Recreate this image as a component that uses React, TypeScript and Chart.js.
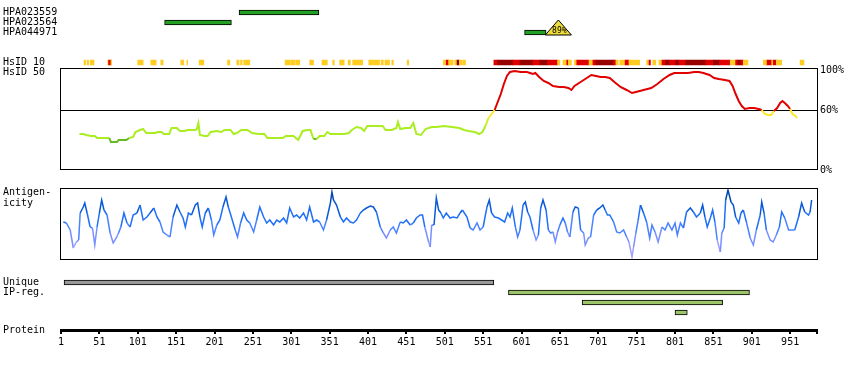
import React, { useEffect, useRef } from 'react';
import { Chart, registerables } from 'chart.js';

Chart.register(...registerables);

// ---------- data ----------
const proteinLength = 986;
const axisTicks = [1, 51, 101, 151, 201, 251, 301, 351, 401, 451, 501, 551, 601, 651, 701, 751, 801, 851, 901, 951];
const simTicks = [0, 60, 100];

const abNames = ['HPA023559', 'HPA023564', 'HPA044971'];
const abStart = [233, 136, 605];
const abEnd = [337, 223, 633];
const abRow = [1, 2, 3];

const triStart = [632];
const triEnd = [666];
const triRow = [3];
const triPct = [89];

const hsRow = 6;
const hsStart = [31, 35, 39, 62, 63, 66, 101, 118, 131, 157, 165, 181, 218, 230, 235, 239, 293, 300, 307, 325, 341, 355, 364, 375, 381, 402, 418, 423, 432, 452, 499, 503, 506, 514, 517, 520, 525, 565, 570, 590, 599, 616, 625, 635, 648, 655, 660, 662, 670, 673, 689, 694, 698, 721, 724, 729, 736, 741, 764, 767, 772, 780, 784, 789, 794, 802, 806, 815, 841, 851, 859, 873, 880, 883, 887, 890, 916, 921, 927, 929, 933, 964];
const hsEnd = [33, 37, 44, 63, 66, 67, 108, 125, 134, 161, 166, 187, 221, 233, 237, 247, 299, 306, 312, 330, 348, 357, 370, 378, 394, 416, 421, 429, 434, 454, 503, 506, 512, 517, 520, 524, 528, 570, 590, 599, 616, 625, 635, 648, 651, 660, 662, 666, 673, 689, 694, 698, 721, 724, 727, 736, 741, 755, 766, 769, 776, 784, 789, 794, 802, 806, 815, 841, 851, 859, 873, 880, 883, 887, 890, 896, 921, 927, 929, 933, 940, 969];
const hsLevel = [0, 0, 0, 0, 1, 0, 0, 0, 0, 0, 0, 0, 0, 0, 0, 0, 0, 0, 0, 0, 0, 0, 0, 0, 0, 0, 0, 0, 0, 0, 0, 1, 0, 0, 2, 0, 0, 1, 2, 1, 2, 1, 2, 1, 0, 0, 1, 0, 0, 1, 0, 1, 2, 1, 0, 0, 1, 0, 0, 1, 0, 0, 1, 2, 1, 2, 1, 2, 1, 2, 1, 0, 1, 2, 1, 0, 0, 1, 0, 1, 0, 0];

const simPos = [25, 30, 34, 40, 45, 48, 58, 64, 66, 74, 76, 80, 86, 90, 95, 98, 104, 108, 112, 118, 124, 127, 132, 135, 142, 145, 152, 156, 162, 166, 172, 176, 178, 180, 182, 188, 192, 196, 204, 210, 214, 222, 226, 230, 236, 244, 250, 258, 266, 270, 280, 290, 294, 304, 310, 316, 322, 326, 330, 334, 338, 344, 348, 352, 360, 370, 376, 380, 386, 392, 396, 400, 410, 420, 424, 432, 438, 440, 443, 450, 456, 460, 464, 470, 476, 484, 490, 500, 510, 520, 526, 532, 540, 546, 550, 554, 558, 562, 566, 570, 574, 578, 582, 586, 592, 600, 608, 612, 616, 619, 624, 630, 636, 642, 650, 656, 662, 666, 670, 678, 686, 692, 698, 704, 710, 716, 722, 730, 738, 745, 750, 760, 770, 778, 786, 794, 800, 810, 818, 826, 832, 838, 846, 852, 858, 866, 872, 876, 880, 884, 888, 892, 898, 904, 910, 914, 918, 922, 926, 930, 934, 938, 941, 944, 948, 951, 954, 958, 960];
const simVal = [36, 36, 35, 34, 34, 32, 32, 32, 28, 28, 30, 30, 30, 32, 33, 38, 40, 41, 37, 37, 37, 38, 38, 36, 36, 42, 42, 39, 39, 40, 40, 40, 41, 47, 35, 34, 34, 38, 39, 38, 40, 40, 36, 37, 40, 40, 37, 36, 36, 32, 32, 32, 34, 34, 30, 39, 40, 40, 31, 31, 34, 34, 38, 36, 36, 36, 37, 40, 43, 42, 39, 44, 44, 44, 40, 40, 42, 48, 41, 42, 42, 47, 36, 35, 41, 43, 43, 44, 43, 42, 40, 39, 38, 36, 38, 44, 52, 56, 60, 68, 76, 86, 94, 98, 99, 98, 98, 97, 96, 97, 93, 89, 87, 84, 83, 83, 82, 80, 84, 88, 92, 95, 94, 93, 93, 92, 88, 83, 80, 77, 78, 80, 82, 86, 91, 95, 97, 97, 97, 98, 98, 97, 95, 92, 91, 90, 89, 84, 76, 69, 64, 61, 62, 62, 61, 60, 56, 55, 55, 59, 62, 67, 69, 67, 64, 61, 56, 54, 52];

const antPos = [4, 8, 13, 17, 21, 24, 26, 30, 32, 35, 39, 42, 45, 48, 51, 54, 57, 61, 65, 69, 73, 76, 79, 83, 87, 91, 95, 100, 104, 108, 113, 117, 122, 126, 130, 134, 139, 143, 147, 152, 156, 160, 163, 167, 171, 176, 179, 182, 185, 189, 193, 197, 200, 204, 208, 212, 216, 219, 223, 228, 231, 235, 239, 243, 247, 252, 256, 260, 265, 269, 273, 278, 282, 286, 291, 295, 299, 304, 308, 312, 317, 321, 325, 330, 334, 338, 343, 347, 352, 354, 356, 360, 365, 369, 373, 378, 382, 386, 391, 395, 399, 404, 408, 412, 417, 421, 425, 430, 434, 438, 443, 447, 451, 456, 460, 464, 469, 472, 475, 480, 482, 484, 487, 490, 493, 496, 499, 503, 508, 512, 517, 521, 524, 530, 534, 538, 543, 547, 551, 556, 559, 562, 566, 571, 575, 579, 583, 586, 589, 593, 596, 599, 603, 606, 609, 612, 616, 620, 623, 626, 629, 633, 636, 639, 642, 645, 648, 651, 655, 658, 661, 664, 668, 671, 675, 678, 682, 684, 688, 691, 695, 699, 703, 707, 710, 713, 716, 721, 725, 729, 734, 738, 741, 745, 747, 750, 753, 756, 760, 764, 768, 771, 775, 779, 784, 788, 792, 797, 801, 804, 808, 812, 816, 821, 825, 829, 834, 837, 840, 843, 847, 850, 853, 856, 860, 862, 865, 867, 870, 874, 877, 880, 884, 887, 890, 894, 899, 903, 907, 912, 914, 917, 920, 925, 929, 933, 937, 940, 944, 949, 953, 957, 962, 966, 970, 975, 977, 979];
const antVal = [38, 37, 30, 12, 18, 20, 47, 53, 57, 47, 33, 32, 15, 33, 47, 60, 50, 45, 27, 17, 22, 27, 33, 47, 37, 33, 45, 47, 55, 40, 43, 47, 52, 43, 38, 28, 25, 23, 43, 55, 48, 42, 33, 47, 45, 55, 57, 43, 33, 47, 52, 40, 25, 35, 40, 53, 63, 53, 43, 30, 23, 37, 47, 40, 37, 28, 40, 53, 43, 37, 40, 35, 40, 38, 42, 37, 52, 43, 45, 42, 47, 40, 53, 38, 40, 38, 30, 40, 57, 68, 60, 55, 43, 38, 42, 38, 37, 40, 47, 50, 52, 54, 53, 48, 33, 27, 22, 30, 33, 27, 38, 37, 40, 35, 37, 42, 45, 45, 33, 18, 13, 35, 35, 62, 50, 47, 42, 47, 42, 43, 42, 47, 50, 43, 32, 30, 37, 30, 33, 53, 60, 47, 43, 42, 40, 38, 47, 43, 52, 33, 23, 30, 55, 58, 48, 43, 30, 20, 25, 52, 60, 50, 30, 27, 28, 18, 28, 35, 42, 37, 28, 23, 48, 53, 52, 30, 27, 15, 22, 23, 45, 50, 52, 55, 50, 45, 45, 38, 28, 27, 30, 23, 18, 3, 13, 27, 40, 55, 47, 38, 22, 35, 28, 18, 33, 30, 37, 30, 37, 25, 37, 32, 48, 52, 48, 43, 47, 55, 43, 33, 42, 50, 38, 20, 8, 27, 32, 60, 70, 58, 55, 43, 37, 47, 50, 38, 22, 15, 30, 45, 58, 47, 30, 20, 18, 25, 33, 48, 42, 30, 30, 30, 43, 57, 48, 45, 48, 60];

const ipLabels = ['Unique', 'IP-reg.'];
const ipStart = [5, 584, 680, 801];
const ipEnd = [565, 898, 863, 817];
const ipRow = [1, 2, 3, 4];
const ipKind = ['unique', 'ip', 'ip', 'ip'];

// ---------- styles ----------
const FONT = '"DejaVu Sans Mono", monospace';
const hsColors = ['#ffcc22', '#e00000', '#990000'];
const ipColors: Record<string, string> = { unique: '#999999', ip: '#9cc46a' };

function simColor(v: number) {
  if (v >= 60) return '#e00000';
  if (v >= 52) return '#ffe822';
  if (v >= 46) return '#ccee22';
  if (v >= 32) return '#aaee22';
  return '#66bb22';
}
function antColor(v: number) {
  if (v > 58) return '#0048b0';
  if (v > 48) return '#0a5ad8';
  if (v > 36) return '#2070f8';
  if (v > 26) return '#4a82ff';
  if (v > 16) return '#7890ff';
  return '#a0a0ff';
}

const decorPlugin = {
  id: 'trackDecor',
  afterDatasetsDraw(chart: any) {
    const ctx = chart.ctx;
    const xs = chart.scales.x;
    const yAb = chart.scales.yAb;
    const ySim = chart.scales.ySim;
    const yAnt = chart.scales.yAnt;
    const yIp = chart.scales.yIp;
    ctx.save();
    // frames
    ctx.strokeStyle = '#000';
    ctx.lineWidth = 1;
    [ySim, yAnt].forEach((s: any) => {
      ctx.strokeRect(xs.left - 0.5, s.top + 0.5, xs.right - xs.left + 1, s.bottom - s.top - 1);
    });
    // antibody triangles
    triStart.forEach((s, i) => {
      const x0 = xs.getPixelForValue(s);
      const x1 = xs.getPixelForValue(triEnd[i]);
      const xm = (x0 + x1) / 2;
      const yr = yAb.getPixelForValue(triRow[i]);
      ctx.beginPath();
      ctx.moveTo(x0, yr + 2.5);
      ctx.lineTo(xm, yr - 12.5);
      ctx.lineTo(x1, yr + 2.5);
      ctx.closePath();
      ctx.fillStyle = '#eedc3a';
      ctx.fill();
      ctx.strokeStyle = '#000';
      ctx.stroke();
      ctx.fillStyle = '#000';
      ctx.font = '8px ' + FONT;
      ctx.textAlign = 'center';
      ctx.textBaseline = 'middle';
      ctx.fillText(triPct[i] + '%', xm + 1, yr - 2);
    });
    // left labels
    ctx.fillStyle = '#000';
    ctx.font = '10px ' + FONT;
    ctx.textAlign = 'left';
    ctx.textBaseline = 'middle';
    abNames.forEach((n, i) => ctx.fillText(n, 3, yAb.getPixelForValue(abRow[i])));
    const hsY = yAb.getPixelForValue(hsRow);
    ctx.fillText('HsID 10', 3, hsY);
    ctx.fillText('HsID 50', 3, hsY + 10);
    ctx.fillText('Antigen-', 3, yAnt.top + 4.5);
    ctx.fillText('icity', 3, yAnt.top + 15);
    ipLabels.forEach((t, i) => ctx.fillText(t, 3, yIp.getPixelForValue(i + 1)));
    ctx.fillText('Protein', 3, xs.top);
    ctx.restore();
  },
};

export default function App() {
  const ref = useRef<HTMLCanvasElement>(null);
  useEffect(() => {
    Chart.defaults.font.family = FONT;
    Chart.defaults.font.size = 10;
    Chart.defaults.color = '#000';
    const noPad = (s: any) => { s.paddingTop = 0; s.paddingBottom = 0; };
    const hidden = (weight: number, stackWeight: number, extra: any = {}) => ({
      type: 'linear', position: 'right', stack: 'tracks', weight, stackWeight, display: false,
      offset: false, grace: 0, min: 0, max: 1, afterFit: noPad, ...extra,
    });
    const chart = new Chart(ref.current as HTMLCanvasElement, {
      type: 'line',
      data: {
        datasets: [
          {
            type: 'bar', label: 'antibodies', indexAxis: 'y', xAxisID: 'x', yAxisID: 'yAb', grouped: false,
            data: abStart.map((s, i) => ({ x: [s, abEnd[i]], y: abRow[i] })),
            backgroundColor: '#23a023', borderColor: '#000', borderWidth: 1, borderSkipped: false, barThickness: 5, order: 1,
          },
          {
            type: 'bar', label: 'HsID 10', indexAxis: 'y', xAxisID: 'x', yAxisID: 'yAb', grouped: false,
            data: hsStart.map((s, i) => ({ x: [s, hsEnd[i]], y: hsRow })),
            backgroundColor: hsLevel.map((l) => hsColors[l]), borderWidth: 0, barThickness: 5, order: 2,
          },
          {
            type: 'line', label: 'HsID 50', xAxisID: 'x', yAxisID: 'ySim',
            data: simPos.map((p, i) => ({ x: p, y: simVal[i] })),
            borderWidth: 2, pointRadius: 0, tension: 0, fill: false,
            segment: { borderColor: (c: any) => simColor((c.p0.parsed.y + c.p1.parsed.y) / 2) },
            borderColor: '#aaee22', order: 3,
          },
          {
            type: 'line', label: 'Antigenicity', xAxisID: 'x', yAxisID: 'yAnt',
            data: antPos.map((p, i) => ({ x: p, y: antVal[i] })),
            borderWidth: 1.5, pointRadius: 0, tension: 0, fill: false,
            segment: { borderColor: (c: any) => antColor((c.p0.parsed.y + c.p1.parsed.y) / 2) },
            borderColor: '#2070f8', order: 4,
          },
          {
            type: 'bar', label: 'IP regions', indexAxis: 'y', xAxisID: 'x', yAxisID: 'yIp', grouped: false,
            data: ipStart.map((s, i) => ({ x: [s, ipEnd[i]], y: ipRow[i] })),
            backgroundColor: ipKind.map((k) => ipColors[k]), borderColor: '#000', borderWidth: 1, borderSkipped: false, barThickness: 5, order: 5,
          },
        ],
      } as any,
      options: {
        responsive: false,
        devicePixelRatio: 1,
        animation: false,
        events: [],
        layout: { padding: { left: 61, right: 0, top: 2.5, bottom: 0 } },
        plugins: { legend: { display: false }, tooltip: { enabled: false } },
        scales: {
          x: {
            type: 'linear', position: 'bottom', min: 1, max: proteinLength, offset: false,
            afterBuildTicks: (s: any) => { s.ticks = [...axisTicks, proteinLength].map((v) => ({ value: v })); },
            afterFit: (s: any) => { s.height = 40; },
            ticks: {
              autoSkip: false, maxRotation: 0, minRotation: 0, padding: 2, color: '#000', font: { family: FONT, size: 10 },
              callback: (v: any) => (v === proteinLength ? '' : String(v)),
            },
            grid: { drawOnChartArea: false, drawTicks: true, tickLength: 4, color: '#000', lineWidth: 2, offset: false },
            border: { display: true, color: '#000', width: 3 },
          },
          yAb: hidden(1, 65.5, { max: 6.55, reverse: true }),
          ySim: {
            type: 'linear', position: 'right', stack: 'tracks', weight: 2, stackWeight: 102, min: 0, max: 102, offset: false,
            afterBuildTicks: (s: any) => { s.ticks = simTicks.map((v) => ({ value: v })); },
            afterFit: (s: any) => { s.width = 33; s.paddingTop = 0; s.paddingBottom = 0; },
            ticks: { padding: 3, color: '#000', font: { family: FONT, size: 10 }, callback: (v: any) => v + '%' },
            grid: {
              drawTicks: false, drawOnChartArea: true, lineWidth: 1,
              color: (c: any) => (c.tick && c.tick.value === 60 ? '#000' : 'rgba(0,0,0,0)'),
            },
            border: { display: false },
          },
          gap1: hidden(3, 18),
          yAnt: hidden(4, 72, { max: 72 }),
          gap2: hidden(5, 12.5),
          yIp: hidden(6, 57.5, { max: 5.75, reverse: true }),
        } as any,
      },
      plugins: [decorPlugin],
    } as any);
    return () => chart.destroy();
  }, []);
  return (
    <div style={{ position: 'absolute', left: 0, top: 0, width: 850, height: 370, background: '#fff' }}>
      <canvas ref={ref} width={850} height={370} style={{ display: 'block', width: 850, height: 370 }} />
    </div>
  );
}
